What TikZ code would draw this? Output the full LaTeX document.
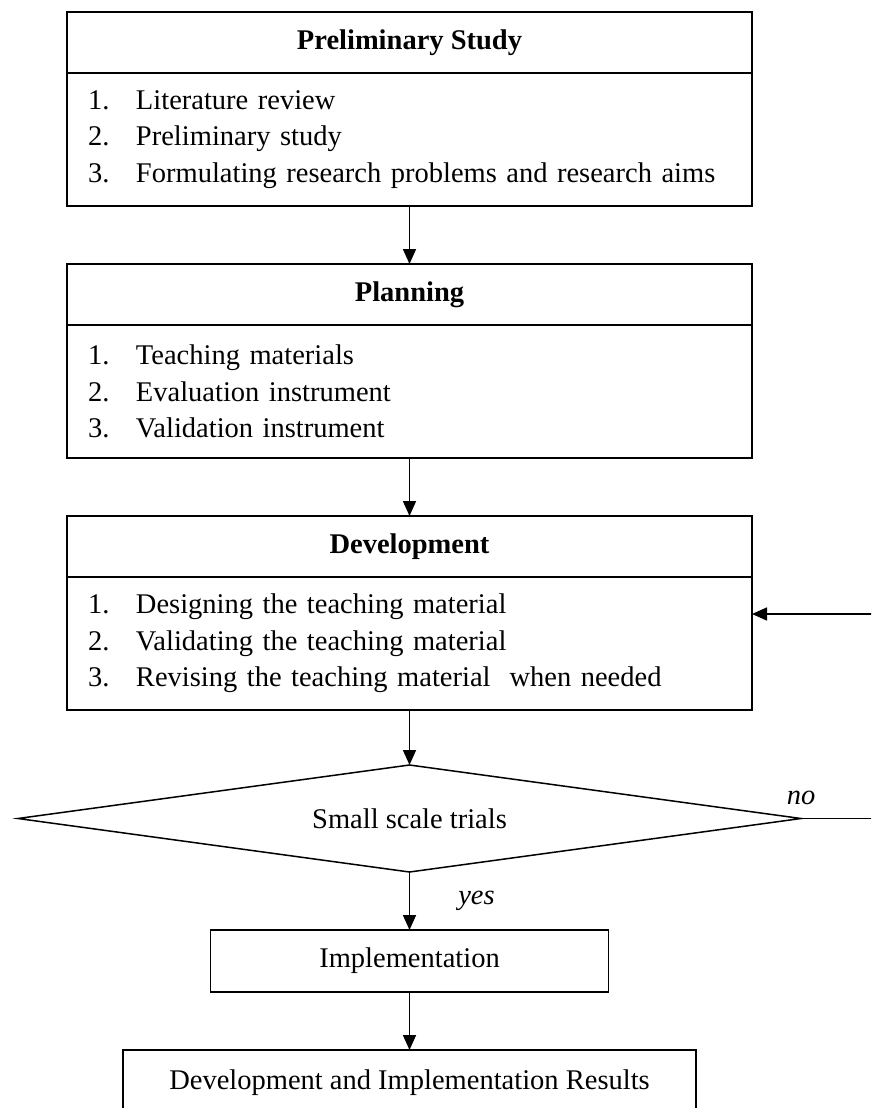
\documentclass[tikz,border=0pt]{standalone}
\usepackage{fontspec}
\setmainfont{Liberation Serif}
\usetikzlibrary{arrows.meta, positioning, shapes.geometric}
\newcommand{\listno}[1]{\makebox[48pt][l]{#1.}}

\begin{document}
\begin{tikzpicture}[
  x=1pt, y=-1pt,
  node distance=58pt,
  head/.style={draw, line width=1.8pt, outer sep=0pt, minimum width=685pt, minimum height=61pt,
               font=\fontsize{28.5pt}{36.5pt}\selectfont\bfseries},
  body/.style={draw, line width=1.8pt, outer sep=0pt, text width=643pt, inner xsep=21pt,
               minimum width=685pt, minimum height=133pt, align=left,
               font=\fontsize{28.5pt}{36.5pt}\selectfont},
  box/.style={draw, line width=1.8pt, outer sep=0pt, font=\fontsize{28.5pt}{36.5pt}\selectfont},
  decision/.style={diamond, draw, line width=1.5pt, outer sep=0pt, aspect=7.3, inner sep=0pt,
                   minimum width=783pt, minimum height=107pt, font=\fontsize{28.5pt}{36.5pt}\selectfont},
  arrow/.style={-{Triangle[length=15pt, width=13pt]}, line width=1.6pt},
  lbl/.style={inner sep=0pt, font=\fontsize{28.5pt}{36.5pt}\selectfont\itshape}
]
\path[use as bounding box] (0,0) rectangle (871,1108);
\clip (0,0) rectangle (871,1108);

\node[head] (prelimhead) at (409.5,42.5) {Preliminary Study};
\node[body, below=0pt of prelimhead] (prelimbody) {\listno{1}Literature review\\
  \listno{2}Preliminary study\\ \listno{3}Formulating research problems and research aims};

\node[head, below=of prelimbody] (planhead) {Planning};
\node[body, below=0pt of planhead] (planbody) {\listno{1}Teaching materials\\
  \listno{2}Evaluation instrument\\ \listno{3}Validation instrument};

\node[head, below=of planbody] (devhead) {Development};
\node[body, below=0pt of devhead] (devbody) {\listno{1}Designing the teaching material\\
  \listno{2}Validating the teaching material\\ \listno{3}Revising the teaching material~ when needed};

\node[decision, below=55pt of devbody] (trial) {Small scale trials};
\node[box, below=of trial, minimum width=398pt, minimum height=62pt] (impl) {Implementation};
\node[box, below=of impl, minimum width=573pt, minimum height=65pt] (results) {Development and Implementation Results};

\coordinate (loopcorner) at (890,614);

\draw[arrow] (prelimbody) -- (planhead);
\draw[arrow] (planbody) -- (devhead);
\draw[arrow] (devbody) -- (trial);
\draw[arrow] (trial) -- node[lbl, right=48pt] {yes} (impl);
\draw[arrow] (impl) -- (results);
\draw[arrow] (trial.east) -- node[lbl, pos=0, above=13pt] {no} (trial.east -| loopcorner)
  -- (loopcorner) -- (devbody.east |- loopcorner);
\end{tikzpicture}
\end{document}
